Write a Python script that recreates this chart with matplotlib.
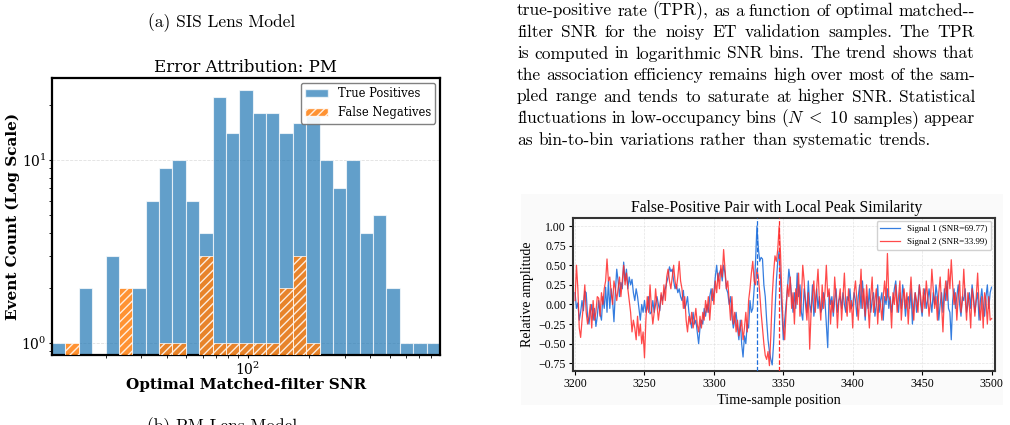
import numpy as np
import matplotlib
matplotlib.use("Agg")
import matplotlib.pyplot as plt
from matplotlib.patches import Rectangle, Patch

plt.rcParams['font.family'] = ['DejaVu Serif']
plt.rcParams['mathtext.fontset'] = 'dejavuserif'

# ---------------- data ----------------
caption_a = "(a) SIS Lens Model"
caption_b = "(b) PM Lens Model"
paragraph_lines = [
    "true-positive rate (TPR), as a function of optimal matched--",
    "filter SNR for the noisy ET validation samples.  The TPR",
    "is computed in logarithmic SNR bins. The trend shows that",
    "the association efficiency remains high over most of the sam-",
    "pled range and tends to saturate at higher SNR. Statistical",
    r"fluctuations in low-occupancy bins ($N\;<\;10$ samples) appear",
    "as bin-to-bin variations rather than systematic trends.",
]

hist_title = "Error Attribution: PM"
snr_min = 10.9
snr_max = 883.0
n_bins = 29
tp_counts = [1, 0, 2, 0, 3, 0, 2, 6, 9, 10, 6, 4, 22, 14, 24, 18, 18, 14, 16, 18,
             10, 7, 10, 4, 5, 2, 1, 1, 1]
fn_counts = [0, 1, 0, 0, 0, 2, 0, 0, 1, 1, 0, 3, 1, 1, 1, 1, 1, 2, 3, 1,
             0, 0, 0, 0, 0, 0, 0, 0, 0]

signal_title = "False-Positive Pair with Local Peak Similarity"
t_start = 3200
snr1 = 69.77
snr2 = 33.99
peak1 = 3331
peak2 = 3347
signal1 = [
    0.15, -0.05, 0.02, -0.20, -0.10, 0.05, -0.08, 0.17, 0.15, -0.15,
    -0.25, -0.10, 0.00, -0.20, -0.05, -0.28, -0.15, 0.05, -0.12, -0.20,
    0.10, -0.05, 0.22, -0.10, 0.30, -0.05, 0.20, 0.05, -0.22, 0.15,
    0.45, 0.30, 0.10, 0.28, 0.20, 0.54, 0.30, 0.45, 0.20, 0.35,
    0.25, 0.32, 0.15, 0.05, 0.20, 0.10, -0.05, -0.20, 0.00, -0.10,
    0.05, -0.10, -0.05, 0.10, -0.12, -0.10, 0.05, -0.10, 0.00, 0.10,
    0.00, -0.08, 0.12, 0.05, 0.15, 0.20, 0.28, 0.35, 0.48, 0.42,
    0.45, 0.30, 0.20, 0.25, 0.15, 0.20, 0.10, 0.05, 0.18, -0.05,
    0.00, 0.10, -0.10, -0.20, -0.30, -0.10, -0.25, -0.20, -0.35, -0.50,
    -0.30, -0.20, -0.25, -0.05, -0.15, 0.00, -0.10, 0.10, 0.20, 0.05,
    0.15, 0.35, 0.50, 0.30, 0.40, 0.45, 0.30, 0.50, 0.40, 0.20,
    0.15, 0.00, 0.10, -0.15, -0.30, -0.20, -0.10, -0.30, -0.45, -0.20,
    -0.50, -0.67, -0.40, -0.50, -0.25, -0.30, 0.05, -0.10, -0.05, 0.20,
    0.55, 1.00, 0.72, 0.55, 0.60, 0.58, 0.25, 0.10, -0.20, -0.45,
    -0.60, -0.70, -0.77, -0.50, -0.10, 0.30, 0.55, 0.68, 0.30, -0.10,
    -0.45, -0.20, 0.00, 0.20, 0.45, 0.30, 0.10, -0.10, 0.15, -0.05,
    0.40, 0.10, 0.25, -0.10, -0.20, 0.20, 0.05, -0.10, 0.30, 0.00,
    -0.10, 0.25, -0.15, 0.00, 0.20, -0.05, 0.10, -0.10, -0.05, 0.15,
    0.05, -0.25, -0.55, 0.15, 0.00, 0.10, -0.15, 0.05, 0.20, -0.10,
    0.05, 0.10, -0.05, 0.15, 0.00, -0.10, 0.10, 0.05, 0.20, -0.05,
    0.00, 0.15, 0.05, -0.15, 0.10, 0.25, -0.05, 0.30, 0.05, -0.20,
    0.10, -0.05, 0.20, -0.10, 0.05, 0.15, -0.15, 0.00, 0.25, -0.10,
    0.05, 0.15, -0.20, 0.10, 0.00, 0.20, -0.05, 0.10, -0.10, 0.05,
    0.20, 0.30, 0.05, -0.10, 0.15, -0.05, 0.25, 0.10, -0.15, 0.05,
    0.10, -0.05, 0.20, -0.25, 0.00, 0.15, -0.10, 0.05, 0.25, 0.00,
    -0.15, 0.10, 0.20, -0.05, 0.05, 0.20, 0.05, -0.10, 0.15, 0.00,
    0.25, 0.10, -0.20, 0.00, 0.15, -0.10, 0.20, 0.05, 0.30, -0.05,
    -0.10, -0.45, 0.05, 0.20, -0.05, 0.10, 0.25, 0.00, -0.15, 0.10,
    0.05, 0.20, -0.10, 0.00, 0.15, -0.05, 0.25, 0.10, -0.10, 0.05,
    0.15, -0.20, 0.05, 0.20, 0.00, -0.15, 0.10, 0.25, -0.05, 0.15,
    0.22,
]
signal2 = [
    0.05, 0.50, 0.20, -0.30, -0.42, -0.20, 0.00, 0.25, -0.10, -0.25,
    -0.15, 0.00, -0.30, 0.05, -0.20, -0.10, 0.10, 0.08, -0.15, 0.15,
    0.00, 0.20, 0.30, 0.58, 0.30, 0.35, 0.15, 0.00, 0.30, 0.20,
    0.05, 0.20, 0.35, 0.10, 0.30, 0.50, 0.25, 0.40, 0.20, 0.05,
    -0.10, -0.35, -0.20, -0.30, -0.45, -0.15, -0.40, -0.25, -0.50, -0.35,
    -0.68, -0.20, 0.10, -0.10, 0.25, -0.05, -0.25, -0.10, 0.20, 0.00,
    -0.20, -0.05, 0.15, 0.00, 0.25, 0.05, 0.35, 0.45, 0.30, 0.20,
    0.35, 0.50, 0.30, 0.20, 0.35, 0.55, 0.30, 0.20, -0.05, 0.10,
    -0.20, -0.35, -0.15, -0.25, -0.10, -0.30, -0.20, -0.05, -0.25, -0.35,
    -0.15, -0.30, -0.10, -0.20, 0.05, -0.10, 0.10, -0.20, 0.05, 0.20,
    0.00, 0.30, 0.15, 0.40, 0.20, 0.50, 0.35, 0.70, 0.45, 0.20,
    0.30, 0.05, -0.20, 0.10, -0.25, -0.10, -0.35, -0.20, -0.40, -0.30,
    -0.20, -0.45, -0.30, -0.10, -0.35, 0.05, 0.20, 0.40, 0.55, 0.30,
    0.25, 0.45, 0.35, 0.15, -0.10, -0.30, -0.50, -0.65, -0.70, -0.60,
    -0.78, -0.40, 0.10, 0.40, 0.62, 0.55, 0.70, 1.00, 0.65, 0.10,
    -0.30, -0.45, -0.10, 0.25, 0.10, 0.35, -0.05, 0.15, -0.25, 0.20,
    0.00, 0.40, -0.15, 0.05, 0.50, 0.30, 0.00, -0.20, 0.15, -0.57,
    -0.10, 0.10, 0.30, -0.10, 0.20, 0.45, 0.05, -0.20, 0.25, -0.05,
    0.15, 0.50, 0.10, 0.20, -0.25, 0.05, -0.10, 0.35, 0.10, -0.30,
    0.05, 0.20, -0.20, 0.10, 0.40, 0.00, -0.15, 0.20, -0.10, 0.05,
    -0.30, 0.15, 0.30, 0.05, -0.20, 0.10, 0.45, -0.05, 0.20, -0.15,
    0.25, 0.00, -0.30, 0.10, 0.35, -0.10, 0.05, 0.20, -0.25, 0.10,
    0.00, -0.20, 0.10, 0.30, 0.05, 0.65, 0.10, 0.05, -0.30, 0.15,
    0.00, 0.25, -0.10, 0.10, 0.30, -0.20, 0.05, 0.20, -0.05, 0.15,
    -0.25, 0.10, 0.35, 0.00, -0.20, 0.15, 0.05, -0.10, 0.25, 0.10,
    -0.10, 0.20, -0.05, 0.30, 0.10, -0.15, 0.05, 0.45, 0.20, -0.05,
    0.10, -0.20, 0.15, 0.35, 0.00, -0.35, 0.10, 0.30, 0.05, 0.45,
    0.20, 0.57, 0.25, 0.00, 0.15, -0.20, 0.10, 0.30, -0.10, 0.05,
    0.45, 0.10, -0.20, 0.15, 0.00, -0.30, 0.20, 0.05, -0.15, 0.10,
    0.40, 0.00, -0.20, 0.10, -0.30, 0.15, 0.05, -0.25, 0.10, -0.20,
    -0.18,
]
sig_xticks = [3200, 3250, 3300, 3350, 3400, 3450, 3500]
sig_yticks = [-0.75, -0.50, -0.25, 0.00, 0.25, 0.50, 0.75, 1.00]

# ---------------- figure ----------------
W, H = 1010, 425
fig = plt.figure(figsize=(W / 100, H / 100), dpi=100)


def fx(px):
    return px / W


def fy(py):
    return 1 - py / H


CM = 'cmr10'
SERIF_R = 'Liberation Serif'
PFS = 12.5  # paragraph font size

# captions
fig.text(fx(222), fy(27.3), caption_a, ha='center', va='baseline',
         fontsize=PFS, family=CM)
fig.text(fx(222), fy(431.5), caption_b, ha='center', va='baseline',
         fontsize=PFS, family=CM)

# justified paragraph
renderer = fig.canvas.get_renderer()
x_left, x_right = 517.0, 975.0
for i, line in enumerate(paragraph_lines):
    words = line.split()
    merged = []
    buf = None
    for w in words:
        if buf is not None:
            buf += ' ' + w
            if w.count('$') % 2 == 1:
                merged.append(buf)
                buf = None
            continue
        if w.count('$') % 2 == 1:
            buf = w
        else:
            merged.append(w)
    words = merged
    yb = 15.5 + 21.5 * i
    texts = [fig.text(0, fy(yb), w, ha='left', va='baseline', fontsize=PFS,
                      family=CM, math_fontfamily='cm') for w in words]
    widths = [t.get_window_extent(renderer).width for t in texts]
    if i < len(paragraph_lines) - 1 and len(words) > 1:
        gap = (x_right - x_left - sum(widths)) / (len(words) - 1)
    else:
        gap = PFS * 100 / 72 * 0.333
    x = x_left
    for t, wd in zip(texts, widths):
        t.set_x(fx(x))
        x += wd + gap

# ---------------- left: histogram ----------------
axL = fig.add_axes([fx(52), fy(355), fx(440) - fx(52), (355 - 78) / H])
axL.set_xscale('log')
axL.set_yscale('log')
edges = np.logspace(np.log10(snr_min), np.log10(snr_max), n_bins + 1)
centers = np.sqrt(edges[:-1] * edges[1:])
axL.hist(centers, bins=edges, weights=tp_counts, color='#1f77b4', alpha=0.7,
         edgecolor='white', linewidth=0.8, zorder=2)
axL.hist(centers, bins=edges, weights=fn_counts, color='#ff7f0e', alpha=0.85,
         edgecolor='white', linewidth=0.6, hatch='////', zorder=3)
axL.set_xlim(edges[0], edges[-1])
axL.set_ylim(0.86, 28.0)
axL.grid(True, axis='y', which='major', ls='--', lw=0.6, color='0.8', alpha=0.6)
axL.set_axisbelow(True)
for s in axL.spines.values():
    s.set_linewidth(1.6)
    s.set_color('black')
axL.tick_params(which='major', direction='out', length=2.5, width=0.8, labelsize=10, pad=1.5)
axL.tick_params(which='minor', direction='out', length=2, width=0.6)
axL.set_title(hist_title, fontsize=12, pad=4)
axL.set_xlabel('Optimal Matched-filter SNR', fontsize=11, fontweight='bold', labelpad=0)
axL.set_ylabel('Event Count (Log Scale)', fontsize=11, fontweight='bold')
axL.yaxis.set_label_coords(-0.082, 0.5)
handles = [Patch(facecolor='#1f77b4', alpha=0.7, edgecolor='white', label='True Positives'),
           Patch(facecolor='#ff7f0e', alpha=0.85, edgecolor='white', hatch='////',
                 label='False Negatives')]
axL.legend(handles=handles, loc='upper right', fontsize=8.3, framealpha=0.9,
           edgecolor='0.45', fancybox=True, borderaxespad=0.4)

# ---------------- right: signals ----------------
fig.patches.append(Rectangle((fx(521), fy(405)), fx(1003) - fx(521), (405 - 194) / H,
                             transform=fig.transFigure, facecolor='#fafafa',
                             edgecolor='none', zorder=-5))
axR = fig.add_axes([fx(573), fy(371), fx(995) - fx(573), (371 - 217.7) / H])
times = t_start + np.arange(len(signal1))
blue = '#1f6fdc'
red = '#ff2a2a'
axR.plot(times, signal1, color=blue, lw=0.9, alpha=0.9,
         label=f'Signal 1 (SNR={snr1:.2f})', zorder=3)
axR.plot(times, signal2, color=red, lw=0.9, alpha=0.85,
         label=f'Signal 2 (SNR={snr2:.2f})', zorder=3)
axR.axvline(peak1, color=blue, ls='--', lw=0.9, zorder=4)
axR.axvline(peak2, color=red, ls='--', lw=0.9, zorder=4)
axR.set_xlim(3198.5, 3502.5)
axR.set_ylim(-0.848, 1.106)
axR.set_xticks(sig_xticks)
axR.set_xticklabels([str(v) for v in sig_xticks], family=SERIF_R, fontsize=8.5)
axR.set_yticks(sig_yticks)
axR.set_yticklabels([f'{v:.2f}'.replace('-', '\u2212') for v in sig_yticks],
                    family=SERIF_R, fontsize=8.5)
axR.tick_params(direction='out', length=3, width=0.8, pad=2)
axR.grid(True, ls='--', lw=0.5, color='0.85', alpha=0.7)
axR.set_facecolor('white')
for s in axR.spines.values():
    s.set_linewidth(1.5)
    s.set_color('#333333')
axR.set_title(signal_title, family=SERIF_R, fontsize=11.3, pad=4, x=0.483)
axR.set_xlabel('Time-sample position', family=SERIF_R, fontsize=10.3)
axR.xaxis.set_label_coords(0.488, -0.15)
axR.set_ylabel('Relative amplitude', family=SERIF_R, fontsize=10, labelpad=3)
axR.legend(loc='upper right', prop={'family': SERIF_R, 'size': 6.5}, framealpha=0.9,
           edgecolor='0.8', handlelength=2.2, borderaxespad=0.4)

fig.savefig('out.png', dpi=100)
